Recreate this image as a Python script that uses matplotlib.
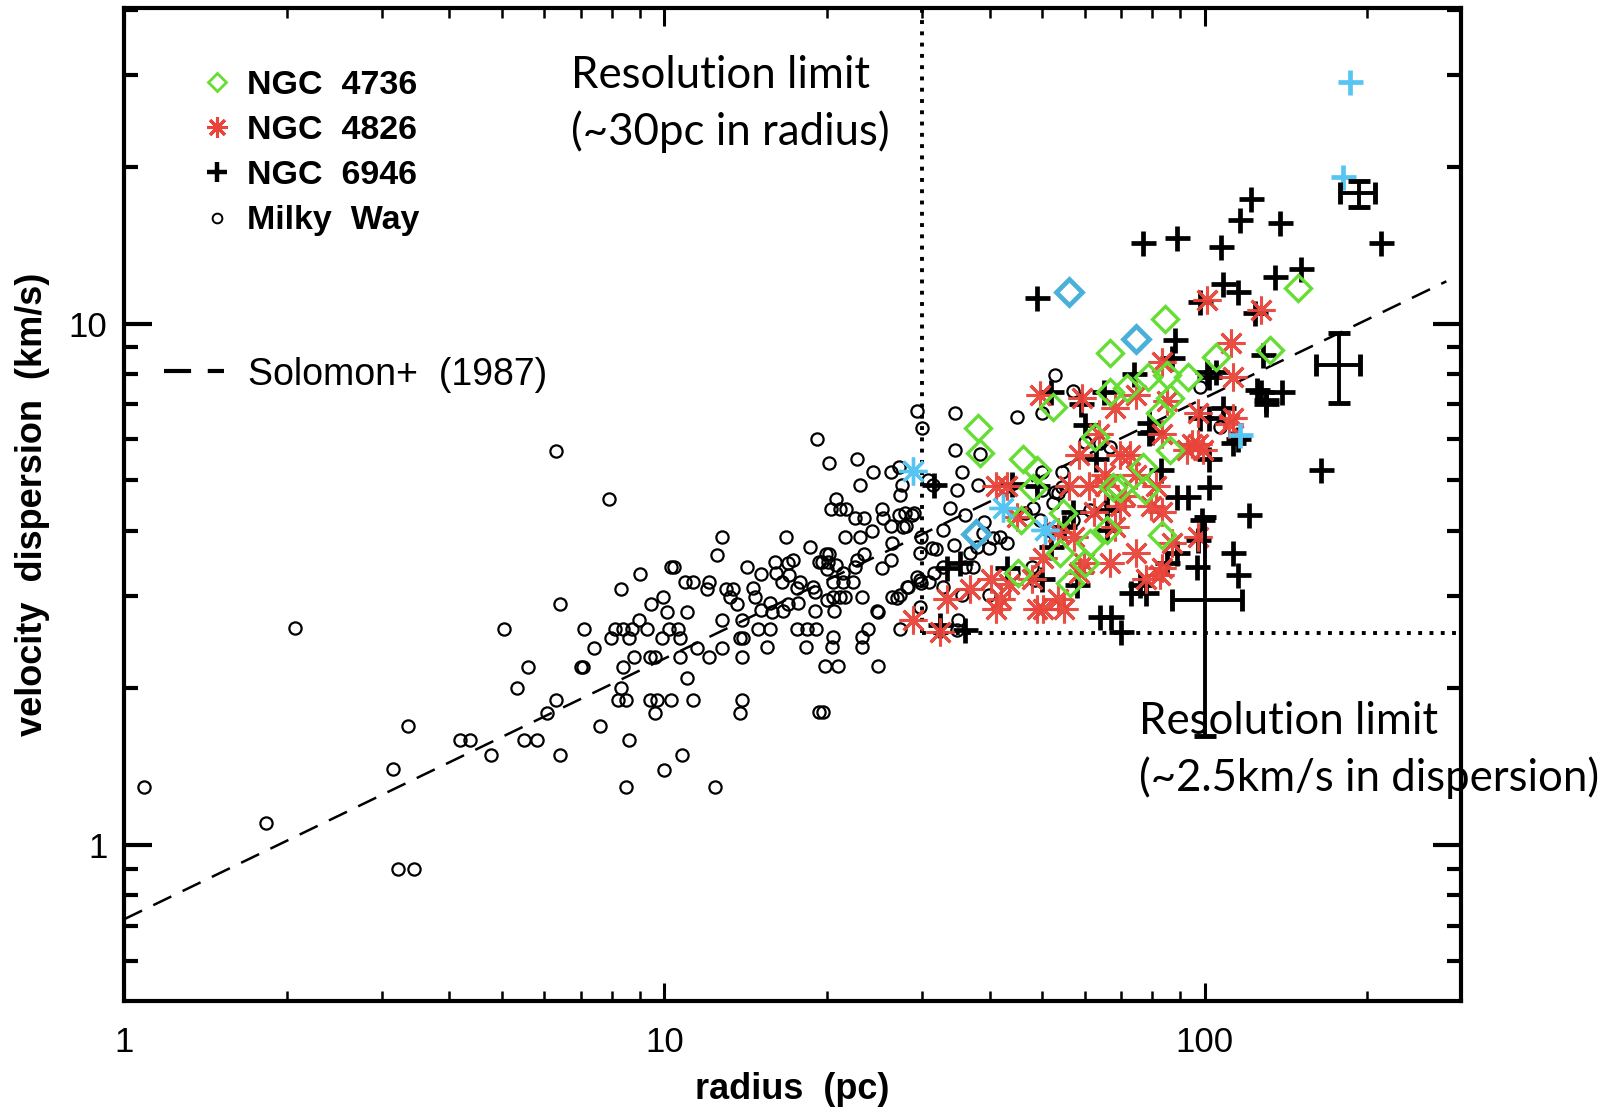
import matplotlib
matplotlib.use("Agg")
import matplotlib.pyplot as plt
from matplotlib import ticker
from matplotlib.lines import Line2D

# ---------------- data ----------------
milky_way = [
    (1.09, 1.29), (1.83, 1.10), (2.07, 2.61), (3.14, 1.40), (3.22, 0.90), (3.44, 0.90), (3.35, 1.69),
    (6.31, 5.7), (7.9, 4.6), (12.8, 3.9), (12.5, 3.6), (14.2, 3.41), (10.3, 3.41), (10.4, 3.41),
    (9.0, 3.31), (8.3, 3.1), (10.9, 3.2), (11.3, 3.2), (12.1, 3.2), (12.0, 3.1), (13.0, 3.1),
    (13.4, 3.1), (13.2, 2.99), (13.6, 2.9), (9.95, 2.99), (9.45, 2.9), (10.1, 2.8), (11.0, 2.8),
    (6.4, 2.9), (5.05, 2.6), (7.1, 2.6), (8.1, 2.6), (8.4, 2.6), (8.7, 2.6), (9.3, 2.6), (8.97, 2.7),
    (10.2, 2.6), (10.6, 2.6), (7.96, 2.49), (8.6, 2.49), (9.9, 2.49), (10.7, 2.49), (7.4, 2.39),
    (11.5, 2.39), (12.8, 2.7), (13.8, 2.49), (14.0, 2.49), (13.9, 2.7), (5.6, 2.19), (7.0, 2.19),
    (7.07, 2.19), (8.4, 2.19), (8.8, 2.29), (9.4, 2.29), (9.6, 2.29), (10.7, 2.29), (12.1, 2.29),
    (12.8, 2.39), (13.9, 2.29), (5.33, 2.0), (8.3, 2.0), (11.0, 2.09), (6.3, 1.9), (6.06, 1.79),
    (8.2, 1.9), (8.5, 1.9), (9.4, 1.9), (9.7, 1.9), (10.3, 1.9), (11.3, 1.9), (9.6, 1.79),
    (13.8, 1.79), (13.9, 1.9), (4.18, 1.59), (4.37, 1.59), (4.78, 1.49), (5.5, 1.59), (5.8, 1.59),
    (6.4, 1.49), (7.6, 1.69), (8.6, 1.59), (10.8, 1.49), (10.0, 1.39), (8.5, 1.29), (12.4, 1.29),
    (29.3, 6.8), (30.0, 6.3), (19.2, 6.0), (20.2, 5.4), (22.7, 5.5), (24.3, 5.2), (26.3, 5.2),
    (27.2, 5.3), (23.0, 4.9), (27.5, 4.9), (27.3, 4.7), (30.8, 5.0), (20.8, 4.6), (20.3, 4.4),
    (21.1, 4.4), (21.7, 4.4), (22.5, 4.24), (23.4, 4.24), (25.3, 4.4), (25.4, 4.24), (26.3, 4.09),
    (27.2, 4.29), (28.0, 4.09), (28.7, 4.29), (24.2, 4.0), (21.6, 3.9), (23.0, 3.9), (26.4, 3.8),
    (29.8, 3.9), (31.8, 3.7), (16.8, 3.9), (18.6, 3.73), (19.3, 3.49), (19.9, 3.61), (20.2, 3.61),
    (19.6, 3.49), (20.1, 3.49), (20.0, 3.38), (20.8, 3.44), (23.4, 3.61), (22.7, 3.52), (22.5, 3.41),
    (25.3, 3.4), (26.3, 3.52), (15.1, 3.31), (16.0, 3.49), (16.1, 3.32), (16.9, 3.47), (17.0, 3.29),
    (17.3, 3.52), (16.5, 3.19), (17.8, 3.19), (17.6, 3.11), (18.8, 3.12), (19.0, 3.05), (20.5, 3.19),
    (21.4, 3.19), (22.3, 3.19), (21.4, 3.32), (20.5, 2.99), (20.0, 2.95), (21.1, 2.99), (20.6, 2.81),
    (21.6, 2.99), (23.2, 2.99), (24.7, 2.81), (26.4, 2.99), (27.3, 3.01), (28.2, 3.12), (29.7, 3.22),
    (30.9, 3.19), (14.6, 3.11), (14.7, 2.99), (15.1, 2.82), (15.7, 2.91), (15.8, 2.80), (16.6, 2.81),
    (16.9, 2.90), (17.7, 2.91), (19.0, 2.81), (14.9, 2.6), (15.7, 2.6), (17.6, 2.6), (18.4, 2.6),
    (19.1, 2.6), (20.5, 2.5), (23.2, 2.5), (23.8, 2.6), (24.9, 2.8), (26.9, 2.98), (27.3, 2.6),
    (15.5, 2.4), (18.3, 2.4), (20.4, 2.4), (23.2, 2.4), (19.3, 1.8), (19.7, 1.8), (19.8, 2.2),
    (21.0, 2.2), (24.8, 2.2),
    (52.8, 7.96), (57.0, 7.42), (34.5, 6.74), (44.9, 6.62), (50.0, 6.74), (34.5, 5.72), (38.3, 5.62),
    (35.5, 5.19), (38.0, 4.9), (34.8, 4.8), (31.4, 4.9), (49.9, 5.19), (54.5, 5.19), (50.0, 4.8),
    (52.8, 4.75), (54.5, 4.85), (33.8, 4.43), (32.8, 4.02), (36.0, 4.29), (38.8, 3.96), (39.1, 4.16),
    (37.9, 3.73), (40.5, 3.88), (39.8, 3.71), (41.8, 3.9), (43.0, 3.8), (46.5, 4.33), (48.1, 4.43),
    (49.5, 4.2), (52.3, 4.53), (53.5, 4.73), (51.3, 4.02), (27.9, 4.33), (29.0, 4.33), (27.6, 4.07),
    (29.7, 3.63), (29.3, 3.26), (28.1, 3.12), (29.9, 3.18), (31.6, 3.32), (31.3, 3.71), (32.8, 3.41),
    (34.3, 3.76), (36.0, 3.41), (37.2, 3.41), (36.8, 3.63), (35.6, 3.01), (32.8, 3.12), (39.8, 3.01),
    (35.0, 2.7), (29.7, 2.86), (34.8, 2.58), (44.2, 3.32), (48.0, 3.41), (48.6, 3.22), (60.0, 5.93),
    (64.0, 5.9), (61.3, 4.39), (57.0, 4.2), (106.6, 6.33), (98.1, 7.55), (66.8, 5.8), (66.8, 4.53),
]

ngc6946 = [
    (122, 17.3), (116, 15.8), (138, 15.6), (107, 14.0), (89, 14.6), (77, 14.3), (49, 11.2),
    (212, 14.3), (151, 12.7), (135, 12.3), (108, 11.9), (115, 11.5), (98, 11.0), (124, 10.5),
    (88, 9.3), (87, 8.6), (74, 8.0), (128, 8.7), (102, 7.9), (127, 7.4), (130, 7.0), (139, 7.4),
    (101, 8.07), (105, 8.07), (98, 6.6), (102, 6.6), (108, 6.9), (80, 6.2), (65, 7.4), (115, 6.0),
    (79, 6.45), (60, 6.4), (52, 7.4), (63, 5.5), (59, 7.0), (164, 5.23), (113, 5.9), (102, 5.5),
    (102, 4.86), (89, 4.65), (93, 4.65), (99, 4.2), (121, 4.3), (83, 5.24), (113, 3.63), (115, 3.3),
    (97, 3.85), (89, 3.63), (85, 3.47), (76, 3.15), (73, 3.04), (78, 3.04), (67, 2.74), (70, 2.56),
    (64, 2.74), (58, 3.15), (66, 4.39), (66, 4.02), (31.6, 4.9), (33.4, 3.40), (35.3, 3.47),
    (43, 3.40), (50, 3.24), (52, 3.72), (55, 4.07), (57, 4.36), (44, 4.93), (49, 4.89), (32.3, 2.64),
    (36, 2.58), (130, 7.14), (125, 7.47), (96.7, 3.41), (79, 6.16),
]

ngc4826 = [
    (101, 11.1), (127, 10.6), (112, 9.17), (83.2, 8.45), (49.5, 7.3), (59.3, 7.2), (68.2, 6.88),
    (74.5, 7.3), (85, 7.1), (97, 6.73), (113, 6.58), (83.2, 6.14), (94.9, 5.87), (99.1, 5.73),
    (111, 6.43), (63.8, 6.14), (58.5, 5.6), (56, 4.89), (61.1, 4.89), (65.3, 4.89), (69.7, 5.6),
    (74.5, 5.12), (81.3, 4.89), (71.3, 4.67), (79.6, 4.46), (83.2, 4.36), (62.5, 4.36), (68.2, 4.07),
    (57.2, 3.89), (53.5, 3.98), (50.1, 3.55), (59.8, 3.47), (66.7, 3.47), (74.5, 3.63), (83.2, 3.40),
    (86.9, 3.80), (97, 3.89), (43, 4.89), (41.1, 4.89), (44.9, 4.26), (40.2, 3.24), (43.5, 3.17),
    (48, 3.24), (53.5, 2.96), (58.5, 3.32), (55, 2.83), (49, 2.83), (41.1, 2.83), (42, 2.96),
    (36.8, 3.10), (33.4, 2.96), (28.9, 2.70), (32.3, 2.56), (50.1, 2.83), (77.8, 3.24), (72.8, 5.6),
    (92.9, 5.73), (65.3, 5.12), (69.7, 4.46), (97, 5.87), (113, 7.9), (82.6, 3.3),
]

ngc4736 = [
    (149, 11.7), (84.3, 10.2), (66.7, 8.78), (105, 8.63), (132, 8.9), (78.5, 7.9), (85.1, 7.96),
    (93, 7.9), (71.7, 7.52), (66.7, 7.39), (86.1, 7.2), (82.6, 6.74), (86.1, 5.72), (76.8, 5.31),
    (69.7, 4.84), (77.4, 4.8), (83.2, 3.93), (65.9, 4.02), (52.4, 6.92), (38, 6.3), (38.3, 5.65),
    (46.1, 5.5), (48.9, 5.24), (62.6, 6.06), (48.1, 4.84), (54.6, 4.33), (45.8, 4.2), (67.6, 4.86),
    (53.9, 3.63), (61.3, 3.8), (60, 3.47), (56.2, 3.18), (45.1, 3.32),
]

blue_diamonds = [(56, 11.5), (74.5, 9.34), (37.7, 3.95)]
blue_asterisks = [(28.8, 5.21), (42.3, 4.43), (50.6, 4.02)]
blue_pluses = [(186, 29.1), (180, 19.1), (116, 6.11)]

# representative error bars
err_r = [100, 177, 193]
err_s = [2.95, 8.33, 17.8]
err_r_lo = [13.1, 16, 15]
err_r_hi = [17, 17, 14]
err_s_lo = [1.33, 1.29, 1.1]
err_s_hi = [1.31, 1.27, 1.0]

# Solomon et al. (1987) relation, end points
solomon_r = [1.0, 280.0]
solomon_s = [0.72, 12.05]

# resolution limits
res_radius = 30.0
res_sigma = 2.55

x_ticks = [1, 10, 100]
y_ticks = [1, 10]
x_lim = (1.0, 298.0)
y_lim = (0.502, 40.3)

# ---------------- styling ----------------
GREEN = "#66DD33"
RED = "#E8443A"
BLUE_D = "#4AB0D9"
BLUE_P = "#57C5F2"
IDL_FONT = ["Liberation Sans Narrow", "Liberation Sans", "DejaVu Sans"]
AST = (8, 2, 0)

fig = plt.figure(figsize=(16.19, 11.07), dpi=100)
ax = fig.add_axes([0.0766, 0.0958, 0.8258, 0.897])
ax.set_xscale("log")
ax.set_yscale("log")
ax.set_xlim(*x_lim)
ax.set_ylim(*y_lim)


def split(pairs):
    return [p[0] for p in pairs], [p[1] for p in pairs]


mx, my = split(milky_way)
ax.plot(mx, my, ls="none", marker="o", ms=8.8, mfc="none", mec="black", mew=1.6, zorder=3)

bx, by = split(ngc6946)
ax.plot(bx, by, ls="none", marker="+", ms=18, mec="black", mew=3.4, zorder=4)

rx, ry = split(ngc4826)
ax.plot(rx, ry, ls="none", marker=AST, ms=20, mec=RED, mew=2.2, alpha=0.95, zorder=5)

gx, gy = split(ngc4736)
ax.plot(gx, gy, ls="none", marker="D", ms=13, mfc="none", mec=GREEN, mew=2.4, zorder=6)

ax.plot(*split(blue_diamonds), ls="none", marker="D", ms=13, mfc="none", mec=BLUE_D, mew=3.4, zorder=7)
ax.plot(*split(blue_asterisks), ls="none", marker=AST, ms=20, mec=BLUE_P, mew=2.4, zorder=7)
ax.plot(*split(blue_pluses), ls="none", marker="+", ms=18, mec=BLUE_P, mew=3.4, zorder=7)

ax.errorbar(err_r, err_s, xerr=[err_r_lo, err_r_hi], yerr=[err_s_lo, err_s_hi], fmt="none",
            ecolor="black", elinewidth=2.8, capsize=8, capthick=3.5, zorder=8)

ax.plot(solomon_r, solomon_s, color="black", lw=1.8, dashes=(8, 5), zorder=2)

ax.plot([res_radius, res_radius], [res_sigma, y_lim[1]], color="black", lw=2.8,
        dashes=(1.0, 1.9), zorder=2)
ax.plot([res_radius, x_lim[1]], [res_sigma, res_sigma], color="black", lw=2.8,
        dashes=(1.0, 1.9), zorder=2)

# ---------------- axes ----------------
for sp in ax.spines.values():
    sp.set_linewidth(3.0)

ax.xaxis.set_major_locator(ticker.FixedLocator(x_ticks))
ax.yaxis.set_major_locator(ticker.FixedLocator(y_ticks))
ax.xaxis.set_minor_locator(ticker.LogLocator(base=10, subs=range(2, 10), numticks=20))
ax.yaxis.set_minor_locator(ticker.LogLocator(base=10, subs=range(2, 10), numticks=20))
fmt = ticker.FuncFormatter(lambda v, _: f"{v:g}")
ax.xaxis.set_major_formatter(fmt)
ax.yaxis.set_major_formatter(fmt)
ax.xaxis.set_minor_formatter(ticker.NullFormatter())
ax.yaxis.set_minor_formatter(ticker.NullFormatter())

ax.tick_params(axis="both", which="both", direction="in", top=True, right=True)
ax.tick_params(axis="x", which="major", length=13, width=2.2, pad=18)
ax.tick_params(axis="x", which="minor", length=7, width=1.8)
ax.tick_params(axis="y", which="major", length=20, width=3.0, pad=12)
ax.tick_params(axis="y", which="minor", length=10, width=3.0)
for lab in ax.get_xticklabels() + ax.get_yticklabels():
    lab.set_family(IDL_FONT)
    lab.set_fontsize(25)

ax.set_xlabel("radius  (pc)", family=IDL_FONT, fontsize=26, fontweight="bold")
ax.set_ylabel("velocity  dispersion  (km/s)", family=IDL_FONT, fontsize=26, fontweight="bold")
ax.xaxis.set_label_coords(0.5, -0.072)
ax.xaxis.label.set_va("top")
ax.yaxis.set_label_coords(-0.055, 0.50)

# ---------------- legends ----------------
h = [
    Line2D([], [], ls="none", marker="D", ms=9, mfc="none", mec=GREEN, mew=2.0),
    Line2D([], [], ls="none", marker=AST, ms=15, mec=RED, mew=2.2),
    Line2D([], [], ls="none", marker="+", ms=14, mec="black", mew=3.2),
    Line2D([], [], ls="none", marker="o", ms=7, mfc="none", mec="black", mew=1.4),
]
leg1 = ax.legend(h, ["NGC  4736", "NGC  4826", "NGC  6946", "Milky  Way"],
                 loc="upper left", bbox_to_anchor=(0.059, 0.938), frameon=False,
                 borderpad=0, borderaxespad=0, handlelength=0.8, handletextpad=0.5,
                 labelspacing=0.42, prop={"family": IDL_FONT, "size": 24.5, "weight": "bold"})
ax.add_artist(leg1)
h2 = [Line2D([], [], color="black", lw=3.0, dashes=(6.5, 4.0))]
ax.legend(h2, ["Solomon+  (1987)"], loc="upper left", bbox_to_anchor=(0.030, 0.649),
          frameon=False, borderpad=0, borderaxespad=0, handlelength=1.6, handletextpad=0.65,
          prop={"family": IDL_FONT, "size": 27})

# ---------------- annotations ----------------
ax.text(6.71, 32.8, "Resolution limit\n(~30pc in radius)", family=["Lato", "DejaVu Sans"],
        fontsize=31.5, ha="left", va="top", linespacing=1.42)
ax.text(75.5, 1.89, "Resolution limit\n(~2.5km/s in dispersion)", family=["Lato", "DejaVu Sans"],
        fontsize=31.5, ha="left", va="top", linespacing=1.42, clip_on=False)

fig.savefig("out.png", dpi=100)
